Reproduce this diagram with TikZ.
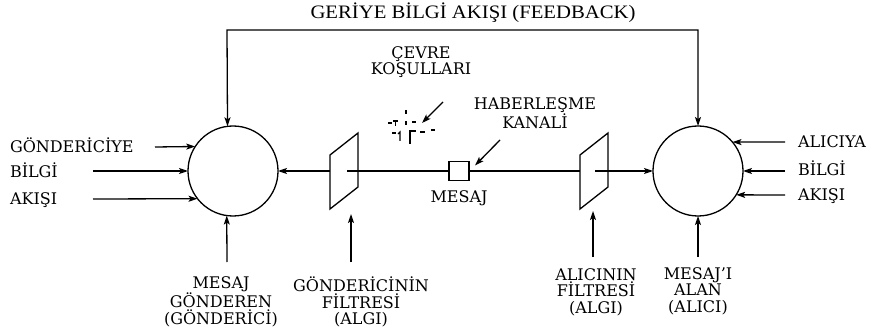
\documentclass[tikz,border=0pt]{standalone}
\usepackage{fontspec}
\setmainfont{DejaVu Serif}
\newfontfamily\titlefont{Liberation Serif}
\usetikzlibrary{arrows.meta,calc}

\tikzset{
  pics/filterpic/.style={code={
    \draw[line width=1.3pt] (-14,-16) -- (-14,38) -- (14,16) -- (14,-38) -- cycle;
  }}
}

\begin{document}
\begin{tikzpicture}[x=1pt,y=-1pt,
  every node/.style={inner sep=0pt, outer sep=0pt},
  lbl/.style={font=\fontsize{16}{16.5}\selectfont, align=center},
  side/.style={font=\fontsize{16}{17}\selectfont},
  ln/.style={line width=1.3pt},
  tip/.tip={Stealth[length=9pt,width=6pt,inset=2pt]},
  arr/.style={ln,-tip},
  party/.style={draw, circle, minimum size=90pt, line width=1.3pt},
  msgbox/.style={draw, line width=1.3pt, minimum width=20pt, minimum height=19pt},
  noise/.style={line width=1.1pt}
]
\useasboundingbox (0,0) rectangle (870,331);

% title
\node[font=\titlefont\fontsize{19}{19}\selectfont] (title) at (473,13) {\scalebox{1.09}[1]{GERİYE BİLGİ AKIŞI (FEEDBACK)}};

% sender and receiver
\node[party] (S) at (233,171) {};
\node[party] (R) at (698,171) {};

% perception filters
\coordinate (F1) at (344,171);
\coordinate (F2) at (594,171);
\pic at (F1) {filterpic};
\pic at (F2) {filterpic};

% message on the channel
\node[msgbox] (M) at (459,171) {};
\node[lbl, anchor=base] (msgl) at (459,203) {MESAJ};

% channel
\draw[arr] ($(F1)+(-14,0)$) -- (S.east);
\draw[ln] ($(F1)+(3,0)$) -- (M.west);
\draw[ln] (M.east) -- ($(F2)+(-14,0)$);
\draw[arr] ($(F2)+(1,0)$) -- (R.west);

% feedback loop
\coordinate (fbL) at (227,30);
\coordinate (fbR) at (698,30);
\draw[ln, tip-tip] (S.97.7) -- (fbL) -- (fbR) -- (R.north);

% environment and channel labels
\node[lbl] (env) at (421,62) {ÇEVRE\\KOŞULLARI};
\node[lbl] (chan) at (535,113) {HABERLEŞME\\KANALİ};
\coordinate (cT) at (500,140);
\draw[arr] (cT) -- ($(M.north east)+(6,4)$);

% noise
\coordinate (N) at (410,126);
\coordinate (nT) at (443,102);
\draw[arr] (nT) -- ($(N)+(12,-3)$);
\begin{scope}[shift={(N)}, noise]
  \draw (-22,-3) -- (-18,-3);
  \draw (-17,-5) -- (-12,-5) (-14.5,-5) -- (-14.5,0);
  \draw (-4,-16) -- (-4,-12);
  \draw (-4,-5) -- (-4,-1);
  \draw (2,-4) -- (6,-4);
  \draw (-18,7) -- (-14,7);
  \draw (-12,8) -- (-10,6) -- (-10,15);
  \draw (-1,5) -- (6,5) (0,5) -- (0,18);
  \draw (10,6) -- (15,6);
  \draw (21,4) -- (25,4);
\end{scope}

% sender-side information flow
\node[side, anchor=base west] (sl1) at (10,153) {GÖNDERİCİYE};
\node[side, anchor=base west] (sl2) at (10,178) {BİLGİ};
\node[side, anchor=base west] (sl3) at (10,205) {AKIŞI};
\coordinate (st1) at (155,147);
\coordinate (st2) at (93,171);
\coordinate (st3) at (93,199);
\draw[arr] (st1) -- (S.147.8);
\draw[arr] (st2) -- (S.west);
\draw[arr] (st3) -- (S.218.5);

% receiver-side information flow
\node[side, anchor=base west] (rl1) at (798,148) {ALICIYA};
\node[side, anchor=base west] (rl2) at (798,176) {BİLGİ};
\node[side, anchor=base west] (rl3) at (798,201) {AKIŞI};
\coordinate (rt1) at (785,142);
\coordinate (rt2) at (785,171);
\coordinate (rt3) at (785,195);
\draw[arr] (rt1) -- (R.40.1);
\draw[arr] (rt2) -- (R.east);
\draw[arr] (rt3) -- (R.-32.2);

% bottom labels
\node[lbl] (snd) at (221,302) {MESAJ\\GÖNDEREN\\(GÖNDERİCİ)};
\node[lbl] (sf) at (361,302) {GÖNDERİCİNİN\\FİLTRESİ\\(ALGI)};
\node[lbl] (rf) at (596,292) {ALICININ\\FİLTRESİ\\(ALGI)};
\node[lbl] (rcv) at (698,291) {MESAJ’I\\ALAN\\(ALICI)};

\coordinate (bt1) at (227,262);
\coordinate (bt2) at (351,262);
\coordinate (bt3) at (593,257);
\coordinate (bt4) at (698,257);
\draw[arr] (bt1) -- (S.262.3);
\draw[arr] (bt2) -- ($(F1)+(7,43)$);
\draw[arr] (bt3) -- ($(F2)+(-1,40)$);
\draw[arr] (bt4) -- (R.south);
\end{tikzpicture}
\end{document}
